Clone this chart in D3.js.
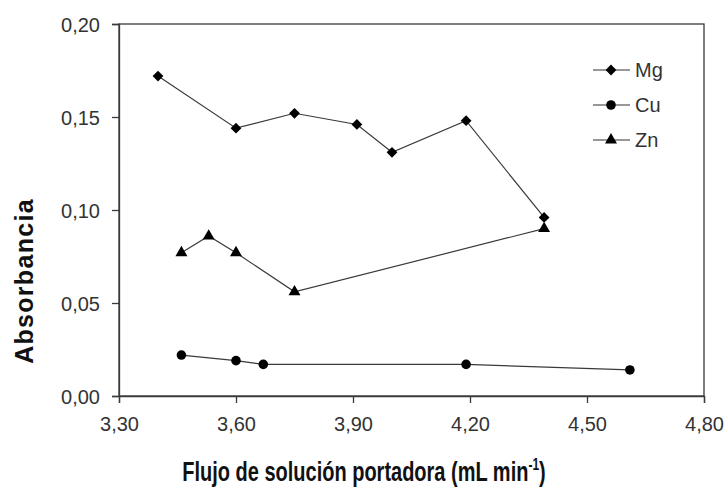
<!DOCTYPE html>
<html>
<head>
<meta charset="utf-8">
<script src="https://cdn.jsdelivr.net/npm/d3@7"></script>
<style>
  html, body { margin: 0; padding: 0; background: #fff; }
  svg { display: block; }
  text { font-family: "Liberation Sans", Arial, sans-serif; }
</style>
</head>
<body>
<div id="chart"></div>
<script>
// datos
const mgFlow = [3.40, 3.60, 3.75, 3.91, 4.00, 4.19, 4.39];
const mgAbs  = [0.172, 0.144, 0.152, 0.146, 0.131, 0.148, 0.096];

const cuFlow = [3.46, 3.60, 3.67, 4.19, 4.61];
const cuAbs  = [0.022, 0.019, 0.017, 0.017, 0.014];

const znFlow = [3.46, 3.53, 3.60, 3.75, 4.39];
const znAbs  = [0.077, 0.086, 0.077, 0.056, 0.090];

const xTicks = [3.30, 3.60, 3.90, 4.20, 4.50, 4.80];
const yTicks = [0.00, 0.05, 0.10, 0.15, 0.20];

const seriesNames = ['Mg', 'Cu', 'Zn'];

const width = 724, height = 489;
const margin = { top: 24, right: 20, bottom: 93, left: 119 };

const svg = d3.select('#chart').append('svg')
    .attr('width', width)
    .attr('height', height);

const x = d3.scaleLinear().domain([3.3, 4.8]).range([margin.left, width - margin.right]);
const y = d3.scaleLinear().domain([0, 0.2]).range([height - margin.bottom, margin.top]);

const fmt = d => d.toFixed(2).replace('.', ',');
const axisColor = '#3a3a3a';

// marco del área de trazado
svg.append('rect')
    .attr('x', x(3.3))
    .attr('y', y(0.2))
    .attr('width', x(4.8) - x(3.3))
    .attr('height', y(0) - y(0.2))
    .attr('fill', 'none')
    .attr('stroke', axisColor)
    .attr('stroke-width', 1.3);

// ejes
const xAxis = svg.append('g')
    .attr('transform', `translate(0,${y(0)})`)
    .call(d3.axisBottom(x).tickValues(xTicks).tickFormat(fmt).tickSize(7).tickPadding(14));

const yAxis = svg.append('g')
    .attr('transform', `translate(${x(3.3)},0)`)
    .call(d3.axisLeft(y).tickValues(yTicks).tickFormat(fmt).tickSize(7).tickPadding(12));

[xAxis, yAxis].forEach(g => {
    g.select('.domain').attr('stroke', axisColor).attr('stroke-width', 1.3);
    g.selectAll('.tick line').attr('stroke', axisColor).attr('stroke-width', 1.3);
    g.selectAll('.tick text')
        .attr('font-family', '"Liberation Sans", Arial, sans-serif')
        .attr('font-size', 20)
        .attr('fill', '#333');
});
yAxis.selectAll('.tick text').attr('dy', '0.36em');

// títulos de ejes (estirados en vertical como en la figura original)
svg.append('text')
    .attr('transform', 'translate(364,481) scale(1,1.35)')
    .attr('text-anchor', 'middle')
    .attr('font-size', 20)
    .attr('font-weight', 'bold')
    .attr('fill', '#111')
    .html('Flujo de solución portadora (mL min<tspan dy="-8" font-size="12">-1</tspan><tspan dy="8">)</tspan>');

svg.append('text')
    .attr('transform', 'translate(33,281) rotate(-90)')
    .attr('text-anchor', 'middle')
    .attr('font-size', 25)
    .attr('font-weight', 'bold')
    .attr('letter-spacing', 1.3)
    .attr('fill', '#111')
    .text('Absorbancia');

// series
const symbols = {
    Mg: d3.symbol().type(d3.symbolSquare).size(58),
    Cu: d3.symbol().type(d3.symbolCircle).size(72),
    Zn: d3.symbol().type(d3.symbolTriangle).size(62)
};
const rotation = { Mg: 45, Cu: 0, Zn: 0 };

const series = [
    { name: 'Mg', xs: mgFlow, ys: mgAbs },
    { name: 'Cu', xs: cuFlow, ys: cuAbs },
    { name: 'Zn', xs: znFlow, ys: znAbs }
];

const line = d3.line().x(d => x(d[0])).y(d => y(d[1]));

series.forEach(s => {
    const pts = s.xs.map((v, i) => [v, s.ys[i]]);
    svg.append('path')
        .datum(pts)
        .attr('d', line)
        .attr('fill', 'none')
        .attr('stroke', '#3a3a3a')
        .attr('stroke-width', 1.2);
    svg.append('g').selectAll('path')
        .data(pts)
        .join('path')
        .attr('d', symbols[s.name])
        .attr('transform', d => `translate(${x(d[0])},${y(d[1])}) rotate(${rotation[s.name]})`)
        .attr('fill', '#000');
});

// leyenda
const legend = svg.append('g').attr('transform', 'translate(593,70)');
seriesNames.forEach((name, i) => {
    const g = legend.append('g').attr('transform', `translate(0,${i * 35})`);
    g.append('line')
        .attr('x1', 0).attr('x2', 37)
        .attr('stroke', '#333').attr('stroke-width', 1.2);
    g.append('path')
        .attr('d', symbols[name])
        .attr('transform', `translate(18,0) rotate(${rotation[name]})`)
        .attr('fill', '#000');
    g.append('text')
        .attr('x', 42)
        .attr('dy', '0.36em')
        .attr('font-size', 20)
        .attr('fill', '#333')
        .text(name);
});
</script>
</body>
</html>
